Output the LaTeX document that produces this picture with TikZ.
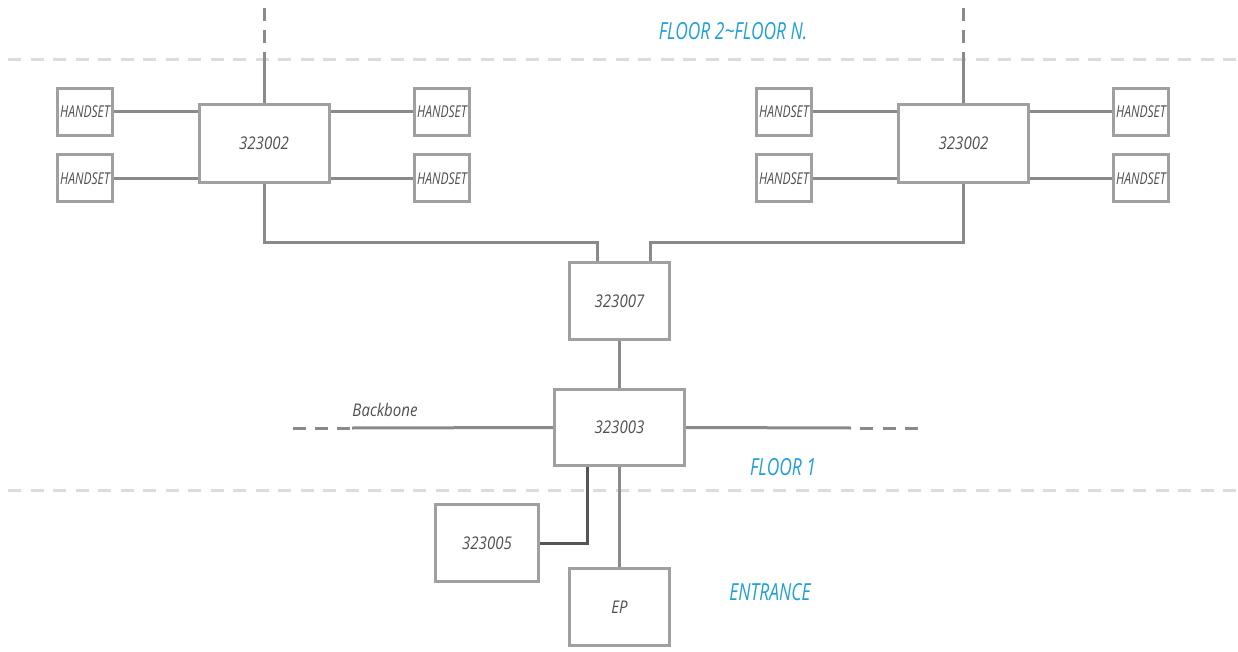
\documentclass[tikz,border=0pt]{standalone}
\usepackage{fontspec}
\usepackage{xcolor}
\newfontfamily\diagfont[FakeStretch=0.74]{Open Sans}
\newfontfamily\numfont[FakeStretch=0.86]{Open Sans}
\definecolor{wiregray}{HTML}{8A8A8A}
\definecolor{boxgray}{HTML}{A0A0A0}
\definecolor{textgray}{HTML}{505050}
\definecolor{darkwire}{HTML}{555555}
\definecolor{floorblue}{HTML}{1E9FD8}
\definecolor{floorline}{HTML}{DCDCDC}

\begin{document}
\begin{tikzpicture}[x=1pt,y=-1pt,
  unitbox/.style={draw=boxgray,line width=3pt,fill=white,inner sep=0pt,
    minimum width=130pt,minimum height=78pt,text=textgray,
    font=\numfont\itshape\fontsize{17.5}{20}\selectfont},
  handset/.style={unitbox,minimum width=55pt,minimum height=47pt,
    font=\diagfont\itshape\fontsize{16.3}{18}\selectfont},
  wire/.style={draw=wiregray,line width=3pt},
  wiredark/.style={draw=darkwire,line width=3pt},
  riser/.style={wire,dash pattern=on 13pt off 9pt},
  floor/.style={draw=floorline,line width=3pt,dash pattern=on 13pt off 9.5pt},
  floortext/.style={text=floorblue,font=\diagfont\itshape\fontsize{23.5}{26}\selectfont},
  bbtext/.style={text=textgray,font=\numfont\itshape\fontsize{17.5}{20}\selectfont}]
\useasboundingbox (0,0) rectangle (1238,652);

\coordinate (f2a) at (8,60);
\coordinate (f2b) at (1238,60);
\coordinate (f1a) at (8,490);
\coordinate (f1b) at (1238,490);
\draw[floor] (f2a) -- (f2b);
\draw[floor] (f1a) -- (f1b);

\node[floortext] (fl2) at (733,31) {FLOOR 2\textasciitilde FLOOR N.};
\node[floortext] (fl1) at (783,467) {FLOOR 1};
\node[floortext] (entr) at (770,592) {ENTRANCE};

% floor 2 ~ floor N
\node[unitbox] (swl) at (264,143.5) {323002};
\node[handset] (hl1) at (85,112) {HANDSET};
\node[handset] (hl2) at (85,178.5) {HANDSET};
\node[handset] (hl3) at (442,112) {HANDSET};
\node[handset] (hl4) at (442,178.5) {HANDSET};
\node[unitbox] (swr) at (963.5,143.5) {323002};
\node[handset] (hr1) at (784,112) {HANDSET};
\node[handset] (hr2) at (784,178.5) {HANDSET};
\node[handset] (hr3) at (1141,112) {HANDSET};
\node[handset] (hr4) at (1141,178.5) {HANDSET};

\draw[wire] (hl1.east) -- (hl1.east -| swl.west);
\draw[wire] (hl2.east) -- (hl2.east -| swl.west);
\draw[wire] (hl3.west) -- (hl3.west -| swl.east);
\draw[wire] (hl4.west) -- (hl4.west -| swl.east);
\draw[wire] (hr1.east) -- (hr1.east -| swr.west);
\draw[wire] (hr2.east) -- (hr2.east -| swr.west);
\draw[wire] (hr3.west) -- (hr3.west -| swr.east);
\draw[wire] (hr4.west) -- (hr4.west -| swr.east);

\coordinate (upl) at (264,8);
\coordinate (upr) at (963.5,8);
\draw[riser] (upl) -- ++(0,45);
\draw[riser] (upr) -- ++(0,45);
\draw[wire] (swl.north) -- ++(0,-50);
\draw[wire] (swr.north) -- ++(0,-50);

% floor 1
\node[unitbox,minimum width=100pt,minimum height=77pt] (dist) at (619.5,301) {323007};
\node[unitbox,minimum height=76pt] (main) at (619.5,427.5) {323003};

\draw[wire] (swl.south) |- ([xshift=-22pt,yshift=19pt]dist.north) -- ([xshift=-22pt]dist.north);
\draw[wire] (swr.south) |- ([xshift=31pt,yshift=19pt]dist.north) -- ([xshift=31pt]dist.north);
\draw[wire] (dist.south) -- (main.north);

\coordinate (bbl) at (293,428);
\coordinate (bbr) at (919,428);
\draw[riser] (bbl) -- ++(62,0);
\draw[wire] ([xshift=59pt]bbl) -- (main.west);
\draw[wire] (main.east) -- ([xshift=-68pt]bbr);
\draw[wire,dash pattern=on 13pt off 9.5pt] ([xshift=-59pt]bbr) -- (bbr);
\node[bbtext] (bb) at (385,410) {Backbone};

% entrance
\node[unitbox,minimum width=103pt,minimum height=77pt] (mon) at (487,543) {323005};
\node[unitbox,minimum width=100pt,minimum height=77pt] (ep) at (619.5,607) {EP};

\draw[wiredark] ([xshift=-32.5pt]main.south) |- (mon.east);
\draw[wire] (main.south) -- (ep.north);
\end{tikzpicture}
\end{document}
